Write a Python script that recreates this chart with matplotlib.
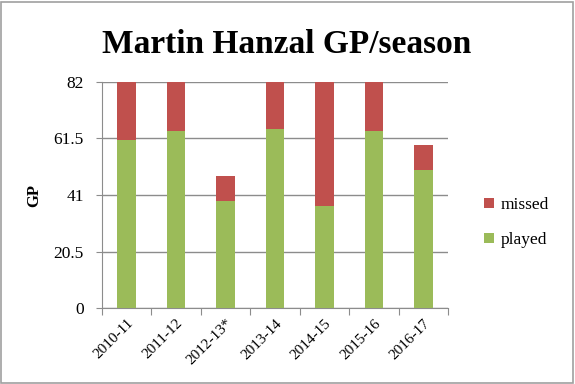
import matplotlib.pyplot as plt
import numpy as np
from matplotlib.patches import Rectangle

seasons = ["2010-11", "2011-12", "2012-13*", "2013-14", "2014-15", "2015-16", "2016-17"]
played = [61, 64, 39, 65, 37, 64, 50]
missed = [21, 18, 9, 17, 45, 18, 9]
y_ticks = [0, 20.5, 41, 61.5, 82]
y_tick_labels = ["0", "20.5", "41", "61.5", "82"]

RED = "#C0504D"
GREEN = "#9BBB59"
GRID = "#8C8C8C"
SERIF = ["Liberation Serif", "DejaVu Serif"]

fig = plt.figure(figsize=(5.75, 3.84), dpi=100)
ax = fig.add_axes([0.1769, 0.1971, 0.6028, 0.5901])

x = np.arange(len(seasons))
ax.bar(x, played, width=0.38, color=GREEN, label="played", zorder=3)
ax.bar(x, missed, width=0.38, bottom=played, color=RED, label="missed", zorder=3)

ax.set_xlim(-0.5, len(seasons) - 0.5)
ax.set_ylim(0, 82)
ax.set_yticks(y_ticks)
ax.set_yticklabels(y_tick_labels, family=SERIF, fontsize=12.5)
ax.yaxis.grid(True, color=GRID, linewidth=1, zorder=0)

# boundary ticks on x, labels at bar centers
ax.set_xticks(np.arange(-0.5, len(seasons)), minor=False)
ax.set_xticklabels([])
ax.set_xticks(x, minor=True)
ax.set_xticklabels(seasons, minor=True, rotation=45, ha="right",
                   rotation_mode="anchor", family=SERIF, fontsize=11)
ax.tick_params(axis="x", which="minor", length=0, pad=6)
ax.tick_params(axis="x", which="major", length=5, color=GRID, direction="out")
ax.tick_params(axis="y", length=4, color=GRID, direction="out", pad=9)

for side in ["top", "right"]:
    ax.spines[side].set_visible(False)
for side in ["left", "bottom"]:
    ax.spines[side].set_color(GRID)

ax.set_ylabel("GP", family=SERIF, fontsize=12, fontweight="bold", labelpad=8)

fig.text(0.498, 0.885, "Martin Hanzal GP/season", ha="center", va="center",
         family=SERIF, fontsize=24, fontweight="bold")

handles, labels = ax.get_legend_handles_labels()
fig.legend(handles[::-1], labels[::-1], loc="center left", bbox_to_anchor=(0.815, 0.42),
           frameon=False, prop={"family": SERIF, "size": 12.5},
           handlelength=0.55, handleheight=0.55, handletextpad=0.4, labelspacing=1.1)

fig.patches.append(Rectangle((0.002, 0.002), 0.994, 0.994, transform=fig.transFigure,
                             fill=False, edgecolor="#A0A0A0", linewidth=1.2))

fig.savefig("out.png", dpi=100)
